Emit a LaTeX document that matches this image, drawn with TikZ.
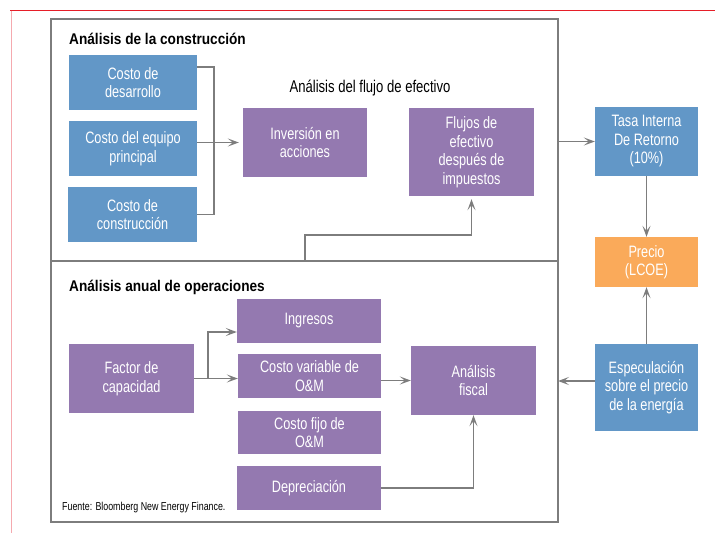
\documentclass[tikz,border=0pt]{standalone}
\usepackage{fontspec}
\setmainfont[FakeStretch=0.77]{Liberation Sans}
\newfontfamily\titlefont[FakeStretch=0.88]{Liberation Sans}
\usetikzlibrary{arrows.meta,calc}
\definecolor{bbox}{RGB}{98,151,199}
\definecolor{pbox}{RGB}{148,121,176}
\definecolor{obox}{RGB}{250,170,90}
\definecolor{lgray}{RGB}{125,125,125}
\definecolor{redl}{RGB}{230,30,40}
\definecolor{pinkl}{RGB}{245,170,175}
\tikzset{
  box/.style={inner sep=2pt, align=center, text=white, font=\fontsize{16.5}{18.5}\selectfont},
  bluebox/.style={box, fill=bbox},
  purplebox/.style={box, fill=pbox},
  orangebox/.style={box, fill=obox},
  conn/.style={draw=lgray, line width=1.4pt},
  arr/.style={conn, -{Stealth[length=11pt,width=8pt,inset=5pt]}},
  title/.style={anchor=base west, inner sep=0pt, font=\titlefont\bfseries\fontsize{15.5}{18}\selectfont},
}
\begin{document}
\begin{tikzpicture}[x=1pt,y=-1pt]
\useasboundingbox (0,0) rectangle (715,533);
\fill[white] (0,0) rectangle (715,533);
% page marks
\draw[redl, line width=1pt] (10,10.5) -- (715,10.5);
\draw[pinkl, line width=1pt] (11,10.5) -- (11,533);
% frame
\draw[conn] (51,19) rectangle (558,522);
\draw[conn] (51,261) -- (558,261);
% titles
\node[title] (t1) at (69,44.5) {Análisis de la construcción};
\node[title] (t2) at (69,291.5) {Análisis anual de operaciones};
\node[anchor=base, inner sep=0pt, font=\fontsize{17}{18}\selectfont] (t3) at (370,92.5) {Análisis del flujo de efectivo};
\node[anchor=base west, inner sep=0pt, font=\fontsize{11.5}{13}\selectfont] (src) at (62,510) {Fuente: Bloomberg New Energy Finance.};
% construction boxes
\node[bluebox, minimum width=128pt, minimum height=55pt] (des) at (133,82.5) {Costo de\\desarrollo};
\node[bluebox, minimum width=128pt, minimum height=55pt] (equ) at (133,148.5) {Costo del equipo\\principal};
\node[bluebox, minimum width=129pt, minimum height=55pt] (con) at (132.5,214.5) {Costo de\\construcción};
\node[purplebox, minimum width=124pt, minimum height=69pt] (inv) at (305,142.5) {Inversión en\\acciones};
\node[purplebox, minimum width=125pt, minimum height=88pt] (flu) at (471.5,152) {Flujos de\\efectivo\\después de\\impuestos};
% right column
\node[bluebox, minimum width=103pt, minimum height=69pt] (tasa) at (646.5,141.5) {Tasa Interna\\De Retorno\\(10\%)};
\node[orangebox, minimum width=103pt, minimum height=50pt] (pre) at (646.5,262) {Precio\\(LCOE)};
\node[bluebox, minimum width=103pt, minimum height=87pt] (esp) at (646.5,387.5) {Especulación\\sobre el precio\\de la energía};
% operations boxes
\node[purplebox, minimum width=125pt, minimum height=69pt] (fac) at (131.5,378.5) {Factor de\\capacidad};
\node[purplebox, minimum width=144pt, minimum height=44pt] (ing) at (309,321) {Ingresos};
\node[purplebox, minimum width=143pt, minimum height=44pt] (cvar) at (309.5,376) {Costo variable de\\O\&M};
\node[purplebox, minimum width=143pt, minimum height=43pt] (cfij) at (309.5,432.5) {Costo fijo de\\O\&M};
\node[purplebox, minimum width=144pt, minimum height=44pt] (dep) at (309,488) {Depreciación};
\node[purplebox, minimum width=125pt, minimum height=69pt] (fis) at (473.5,380.5) {Análisis\\fiscal};
% junction coordinates
\coordinate (jt) at (214,67);
\coordinate (jb) at (214,214.5);
\coordinate (fr1) at (558,141.5);
\coordinate (fr2) at (558,381);
\coordinate (d1) at (305,261);
\coordinate (d2) at (305,235);
\coordinate (fj) at (208,378.5);
% connectors
\draw[conn] ([yshift=15.5pt]des.east) -- (jt) -- (jb) -- (con.east);
\draw[arr, shorten >=4pt] (equ.east |- inv.west) -- (inv.west);
\draw[arr] (fr1) -- (tasa.west);
\draw[arr] (tasa.south) -- (pre.north);
\draw[arr] (esp.north) -- (pre.south);
\draw[arr] ([yshift=6.5pt]esp.west) -- (fr2);
\draw[arr, shorten >=3pt] (d1) -- (d2) -| (flu.south);
\draw[arr] (fac.east) -- (fac.east -| cvar.west);
\draw[arr] (fj) |- ([yshift=-11pt]ing.west);
\draw[arr] (cvar.east |- fis.west) -- (fis.west);
\draw[arr] (dep.east) -| (fis.south);
\end{tikzpicture}
\end{document}
